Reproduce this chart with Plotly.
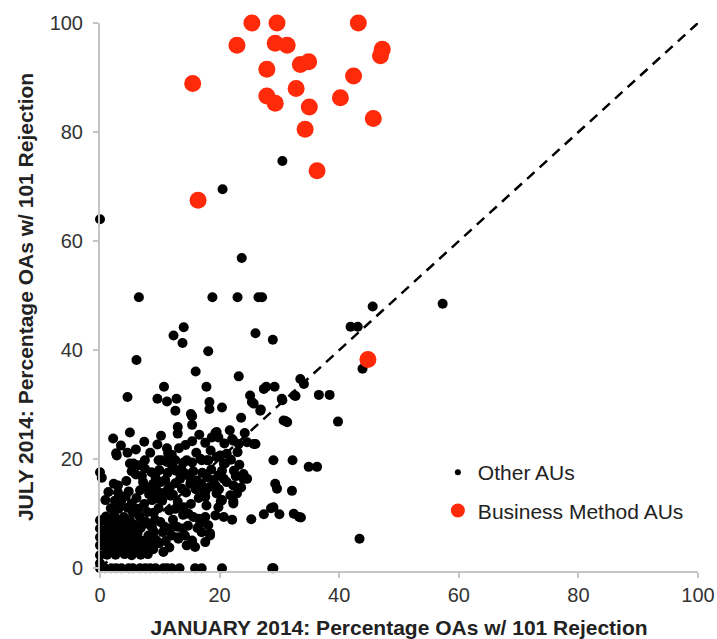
import plotly.graph_objects as go

# ---- Data: Other AUs (January %, July %) ----
other_jan = [
    # sparse upper / right points
    0, 20.5, 30.5, 23.7, 6.5, 18.8, 23.0, 26.5, 27.1, 57.3, 45.6, 14.0, 12.3, 13.8, 26.0, 28.9,
    41.9, 43.1, 18.1, 6.1, 43.9, 16.0, 23.2, 33.5, 34.1, 10.7, 17.8, 27.8, 29.2, 4.6, 9.6, 11.2,
    12.8, 12.6, 15.4, 15.4, 13.0, 13.0, 5.0, 2.2, 15.4, 11.2, 13.2, 2.8, 4.6, 8.4, 9.8, 5.0,
    6.4, 7.5, 10.3, 12.6, 14.0, 0, 0.3, 15.4, 17.0,
    25.1, 25.4, 32.5, 30.4, 18.3, 18.3, 20.4, 26.9, 23.6, 31.0, 18.7, 19.5, 22.1, 24.6, 26.0,
    16.8, 18.1, 20.1, 20.7, 20.4, 24.0,
    30.5, 32.7, 36.6, 38.4, 39.8, 29.0, 32.2, 34.9, 36.3, 29.3, 29.6, 32.1, 29.0, 30.0, 32.4,
    33.6, 43.4, 29.0,
    27.4, 25.7, 31.3, 26.8, 19.3, 19.8, 22.3, 23.2, 25.7, 21.2, 20.9, 19.5, 24.6, 30.7, 15.2,
    28.6, 27.4, 25.3, 33.3, 20.4, 28.8, 17.0, 17.9, 19.3, 20.7, 22.3, 24.0, 17.6, 20.2, 22.3,
    17.8, 17.6, 19.3, 20.7, 22.1, 17.0, 18.4, 17.6,
    6.7, 7.8, 9.5, 11.7, 13.7, 15.1, 17.3, 17.6, 19.5, 21.8, 22.9, 22.3, 20.4, 19.8, 15.6,
    16.8, 18.1, 18.4, 10.6, 10.6, 12.0, 15.9, 5.6, 7.5, 11.2, 14.5, 17.9,
    8.1, 10.1, 11.4, 3.6, 5.3, 6.4, 8.7, 9.5, 12.6, 14.0, 14.8, 16.5,
    0, 0, 0, 0, 0, 0, 0, 10.1, 11.7, 12.0, 13.1, 14.2, 15.4, 15.9,
    # bottom row (July = 0)
    0.8, 1.9, 2.7, 3.6, 4.8, 5.5, 6.7, 7.6, 8.4, 9.3, 11.2, 13.3,
    # dense block near the origin
    1.2, 2.6, 4.1, 5.3, 6.8, 8.0,
    0.9, 2.0, 3.3, 4.7, 6.0, 8.6,
    1.5, 2.8, 4.0, 5.6, 6.9, 8.2, 9.4,
    0.8, 2.2, 3.6, 4.9, 6.3, 9.0,
    1.6, 3.0, 4.3, 5.8, 7.1, 8.4,
    1.0, 2.4, 4.0, 6.6,
    1.8, 3.1, 4.6, 9.8,
    0.9, 2.5, 1.4, 3.0, 4.8, 2.3,
    1.6, 3.0, 4.5, 5.9, 7.3, 8.9,
    0.7, 2.6, 3.9, 5.2, 6.6, 7.9, 9.2,
    1.1, 2.4, 3.4, 4.6, 5.9, 8.1,
    1.3, 2.9, 4.2, 5.4, 6.8, 8.7,
    0.7, 2.1, 3.6, 5.0, 7.6, 9.2,
    4.3, 6.1, 7.4, 5.5, 7.9, 3.2, 8.2,
    # band around July 14-19 %
    8.6, 9.9, 11.3, 12.7, 14.2, 15.6, 17.1, 18.6, 19.8, 22.4, 23.3, 21.9, 6.0, 13.4, 16.2, 19.0,
    7.2, 8.9, 12.6, 14.4, 16.0, 10.6, 12.2,
    11.0, 12.9, 14.7, 10.5, 13.1, 2.7, 11.4,
    # band around July 20-25 %
    3.5, 6.0, 7.4, 9.6, 10.2, 12.0, 14.3, 16.1, 17.6, 18.5, 20.8, 23.0, 24.2, 21.7, 16.6,
    4.4, 5.3, 7.0, 9.3, 10.9, 12.1, 13.6, 15.0, 16.9, 18.3, 19.9, 21.2, 22.7, 23.6, 3.0,
    9.0, 10.4, 11.6, 13.0, 13.9, 15.2, 16.5, 11.8,
    9.9, 10.8, 12.2, 13.8, 11.6, 14.5, 16.3,
]
other_jul = [
    64.0, 69.5, 74.7, 56.9, 49.7, 49.7, 49.7, 49.7, 49.7, 48.5, 48.0, 44.2, 42.7, 41.3, 43.1, 41.9,
    44.3, 44.3, 39.8, 38.2, 36.6, 36.1, 35.2, 34.7, 33.8, 33.3, 33.3, 33.3, 33.3, 31.4, 31.1, 30.6,
    31.1, 28.9, 27.9, 26.3, 25.9, 24.7, 24.9, 23.8, 23.3, 22.0, 22.0, 20.7, 21.2, 21.2, 19.8, 19.2,
    18.9, 18.3, 19.8, 19.8, 19.4, 17.6, 16.6, 19.4, 19.8,
    31.7, 30.5, 31.7, 31.1, 30.5, 29.2, 29.5, 29.1, 27.6, 27.0, 24.0, 25.0, 23.7, 23.1, 22.8,
    20.1, 19.8, 20.7, 19.2, 17.9, 17.3,
    30.8, 31.6, 31.8, 31.8, 26.9, 19.8, 19.8, 18.6, 18.6, 15.5, 14.6, 14.2, 11.2, 9.9, 10.0,
    9.3, 5.4, 0,
    32.9, 30.2, 26.8, 28.9, 24.8, 24.0, 23.4, 22.8, 22.8, 21.0, 19.2, 20.4, 16.4, 27.1, 28.3,
    11.0, 9.9, 9.0, 9.4, 0, 0, 0, 16.7, 15.2, 16.4, 15.2, 16.4, 14.0, 12.3, 12.3,
    11.5, 9.4, 9.7, 9.4, 8.9, 6.6, 6.4, 4.8,
    14.3, 14.9, 14.3, 14.9, 14.6, 15.5, 14.3, 13.1, 13.7, 13.4, 13.7, 11.9, 12.5, 11.2, 9.4,
    8.2, 7.9, 6.0, 3.0, 0, 0, 0, 19.2, 19.8, 19.5, 19.8, 19.8,
    14.6, 15.8, 14.6, 12.5, 11.9, 10.9, 12.5, 12.8, 10.9, 11.2, 10.0, 9.1,
    8.8, 7.3, 5.7, 4.2, 2.4, 0.9, 0, 8.5, 7.3, 6.0, 5.4, 6.0, 5.1, 3.9,
    0, 0, 0, 0, 0, 0, 0, 0, 0, 0, 0, 0,
    2.5, 2.5, 2.6, 2.4, 2.5, 2.6,
    3.8, 3.9, 3.7, 3.8, 3.9, 3.8,
    5.2, 5.1, 5.3, 5.2, 5.1, 5.3, 5.2,
    6.6, 6.5, 6.7, 6.6, 6.5, 6.7,
    8.0, 8.1, 7.9, 8.0, 8.1, 7.9,
    9.5, 9.6, 9.4, 9.5,
    11.0, 10.9, 11.1, 11.0,
    12.5, 12.4, 14.0, 13.9, 14.1, 15.5,
    3.1, 3.2, 3.1, 3.0, 3.3, 3.5,
    4.5, 4.6, 4.4, 4.5, 4.3, 4.6, 4.7,
    5.9, 6.0, 5.8, 6.1, 5.9, 6.0,
    7.3, 7.4, 7.2, 7.3, 7.4, 7.5,
    8.8, 8.7, 8.9, 8.8, 8.6, 8.9,
    13.2, 12.9, 11.8, 10.2, 10.3, 11.9, 13.6,
    17.6, 18.0, 17.5, 17.9, 17.4, 17.8, 17.5, 18.1, 17.0, 17.9, 19.0, 19.9, 17.2, 16.4, 16.1, 16.2,
    15.8, 15.5, 15.6, 13.9, 14.5, 13.8, 13.5,
    5.0, 7.6, 7.8, 6.6, 5.7, 21.1, 21.1,
    22.5, 21.8, 23.2, 22.7, 24.3, 20.8, 22.6, 21.2, 23.0, 21.6, 22.9, 21.3, 24.8, 25.3, 24.5,
    16.0, 17.8, 16.9, 16.6, 16.2, 18.7, 18.3, 16.7, 15.5, 14.9, 14.5, 15.8, 16.9, 14.8, 15.2,
    10.2, 12.4, 10.6, 12.2, 9.8, 11.8, 12.9, 13.3,
    4.6, 7.6, 8.9, 7.3, 3.8, 4.2, 7.4,
]

# ---- Data: Business Method AUs ----
bm_jan = [25.4, 29.6, 43.2, 22.9, 29.3, 31.3, 47.2, 46.9, 15.5, 27.9, 33.5, 34.9,
          42.4, 32.8, 27.9, 29.3, 40.2, 35.0, 45.7, 34.3, 36.3, 16.4, 44.8]
bm_jul = [100.0, 100.0, 100.0, 95.9, 96.3, 95.9, 95.2, 94.0, 88.9, 91.5, 92.4, 92.9,
          90.3, 88.0, 86.6, 85.3, 86.3, 84.6, 82.5, 80.5, 72.9, 67.5, 38.3]

diag = [0, 100]
tick_vals = [0, 20, 40, 60, 80, 100]

FONT = "Liberation Sans, Arial, sans-serif"

fig = go.Figure()
fig.add_trace(go.Scatter(x=diag, y=diag, mode="lines", showlegend=False,
                         line=dict(color="black", width=2.5, dash="10px,7px"),
                         hoverinfo="skip"))
fig.add_trace(go.Scatter(x=other_jan, y=other_jul, mode="markers", showlegend=False,
                         name="Other AUs", cliponaxis=False,
                         marker=dict(size=10, color="black", line=dict(width=0))))
fig.add_trace(go.Scatter(x=bm_jan, y=bm_jul, mode="markers", showlegend=False,
                         name="Business Method AUs", cliponaxis=False,
                         marker=dict(size=17, color="#ff2a0a", line=dict(width=0))))
# legend entries
fig.add_trace(go.Scatter(x=[None], y=[None], mode="markers", name="Other AUs",
                         legendgroup="a", marker=dict(size=6, color="black")))
fig.add_trace(go.Scatter(x=[None], y=[None], mode="markers", name="Business Method AUs",
                         legendgroup="b", marker=dict(size=14, color="#ff2a0a")))

fig.update_layout(
    width=717, height=639,
    margin=dict(l=100, r=19, t=23, b=68),
    paper_bgcolor="white", plot_bgcolor="white",
    font=dict(family=FONT, size=20, color="#333333"),
    showlegend=True,
    legend=dict(x=0.565, y=0.145, xanchor="left", yanchor="middle",
                bgcolor="rgba(0,0,0,0)", font=dict(size=21, color="#222222"),
                tracegroupgap=8, itemsizing="trace"),
    xaxis=dict(range=[0, 100], tickvals=tick_vals, showgrid=False, zeroline=False,
               automargin=False,
               showline=True, linecolor="#c4c4c4", linewidth=2,
               ticks="outside", ticklen=5, tickcolor="#c4c4c4", tickwidth=1.5,
               tickfont=dict(size=20, color="#333333"),
               title=dict(text="<b>JANUARY 2014: Percentage OAs w/ 101 Rejection</b>",
                          font=dict(size=21, color="#222222"), standoff=15)),
    yaxis=dict(range=[-0.5, 100], tickvals=tick_vals, showgrid=False, zeroline=False,
               automargin=False, ticklabelstandoff=6,
               showline=True, linecolor="#c4c4c4", linewidth=2,
               ticks="outside", ticklen=5, tickcolor="#c4c4c4", tickwidth=1.5,
               tickfont=dict(size=20, color="#333333"),
               title=dict(text="<b>JULY 2014: Percentage OAs w/ 101 Rejection</b>",
                          font=dict(size=21, color="#222222"), standoff=10)),
)

# remove the default page margin so the 717x639 figure fills the window exactly
fig.write_html(
    "out.html",
    config={"displayModeBar": False},
    post_script="document.body.style.margin='0';"
                "document.documentElement.style.overflow='hidden';"
                "document.body.style.overflow='hidden';",
)
